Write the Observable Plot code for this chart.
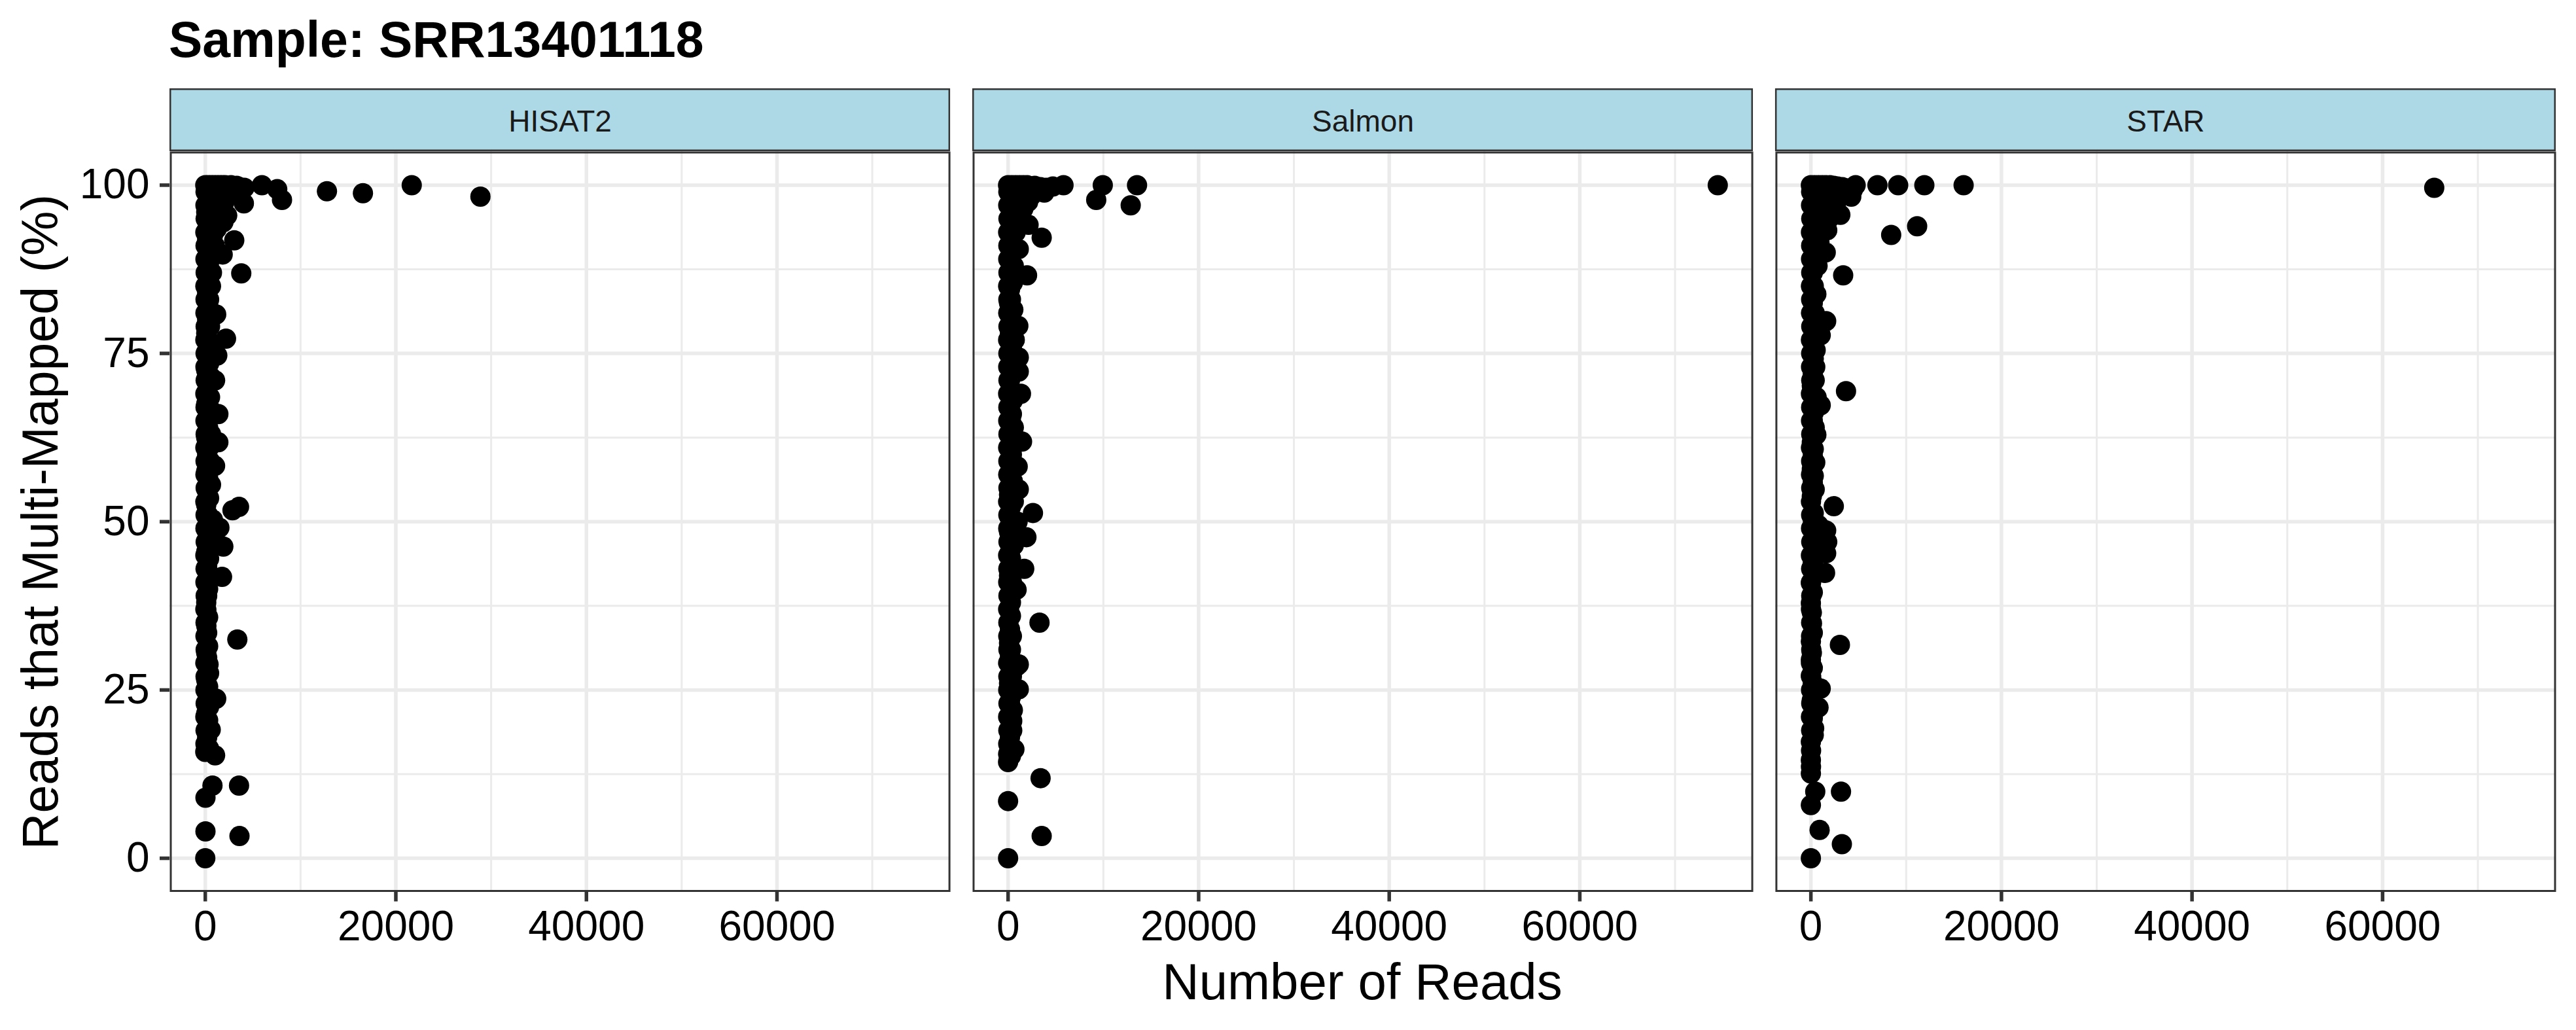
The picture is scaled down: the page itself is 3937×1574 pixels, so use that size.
<!DOCTYPE html>
<html>
<head>
<meta charset="utf-8">
<script src="https://cdn.jsdelivr.net/npm/d3@7"></script>
<script src="https://cdn.jsdelivr.net/npm/@observablehq/plot@0.6"></script>
<style>
  html, body { margin: 0; padding: 0; background: white; }
  #wrap { position: relative; width: 3937px; height: 1574px; overflow: hidden; font-family: "Liberation Sans", Arial, Helvetica, sans-serif; }
  #chart { position: absolute; left: 0; top: 0; }
  .lbl { position: absolute; line-height: 1; white-space: nowrap; color: black; }
  #title { left: 258px; top: 21.8px; font-size: 77px; font-weight: bold; }
  #xlab { left: 1482px; width: 1200px; top: 1460.7px; font-size: 78px; text-align: center; }
  #ylab { left: -538.7px; width: 1200px; top: 758.5px; height: 77px; font-size: 77px; text-align: center; transform: rotate(-90deg); }
</style>
</head>
<body>
<div id="wrap">
  <div id="chart"></div>
  <div class="lbl" id="title">Sample: SRR13401118</div>
  <div class="lbl" id="xlab">Number of Reads</div>
  <div class="lbl" id="ylab">Reads that Multi-Mapped (%)</div>
</div>
<script>
// ---- data: [number of reads, % multi-mapped] ----
const methods = ["HISAT2", "Salmon", "STAR"];

const hisat2 = [
  [28877, 98.3], [21668, 100], [16546, 98.8], [12770, 99.1], [8053, 97.8], [7552, 99.4], [5947, 100], [4050, 97.3],
  [0, 100], [300, 100], [600, 100], [900, 100], [1200, 100], [1500, 100], [1800, 100], [2100, 100], [2400, 99.9],
  [2700, 100], [3000, 99.8], [3300, 99.9], [3600, 99.7], [4100, 99.6],
  [150, 99.5], [450, 99.6], [750, 99.4], [1050, 99.7], [1350, 99.5], [1650, 99.6], [1950, 99.3], [2250, 99.5],
  [2550, 99.2], [2850, 99.4], [3150, 99.3], [450, 98.5], [900, 98.8], [1350, 98.2], [1800, 98.6], [700, 96],
  [1100, 95.5], [1300, 97.2], [900, 94.5], [500, 93.5],
  [2500, 98.5], [2000, 97.5], [3000, 98.8], [1500, 96.5], [2300, 95.5], [1900, 94.5], [1200, 93.5], [1000, 98],
  [500, 97], [100, 96], [1600, 95.8], [300, 94], [800, 92.5], [200, 92], [3041, 91.8], [1000, 91], [600, 90],
  [1826, 89.7], [400, 88.5], [700, 87], [3776, 86.9], [300, 86], [600, 85], [200, 84], [400, 83], [300, 82],
  [1145, 80.8], [200, 80], [500, 79], [100, 78], [2175, 77.2], [800, 76.5], [300, 76], [200, 75.5], [1260, 74.7],
  [400, 73.5], [100, 72.5], [600, 71.5], [1030, 71], [300, 70.5], [200, 69.5], [500, 68.5], [100, 67.5], [400, 67],
  [1373, 66], [200, 65], [300, 64], [600, 63], [100, 62.5], [1373, 61.8], [400, 61], [200, 60], [500, 59],
  [1030, 58.3], [100, 57.5], [300, 56.5], [600, 55.5], [200, 54.5], [400, 53.5], [100, 52.5], [3543, 52.2],
  [2857, 51.7], [300, 51], [800, 50.3], [1483, 49.1], [200, 48.5], [500, 47.5], [1895, 46.3], [100, 45.5],
  [400, 44.5], [200, 43.5], [300, 42.5], [1758, 41.8], [100, 41], [300, 40], [200, 39], [100, 38], [115, 36.9],
  [300, 35.8], [115, 34.5], [200, 33.5], [3364, 32.5], [300, 31.5], [100, 30.5], [200, 29.8], [343, 28.8],
  [400, 27.5], [100, 26.5], [300, 25.5], [200, 24.5], [1145, 23.7], [400, 22.5], [100, 21.5], [300, 20.5],
  [572, 19.1], [200, 18], [100, 17], [400, 16.3], [0, 15.8], [1030, 15.3], [755, 10.8], [3543, 10.8],
  [20, 9.0], [20, 4.0], [3590, 3.3], [0, 0],
  [30, 99], [20, 97], [40, 95], [10, 93], [30, 91], [20, 89], [40, 87], [10, 85], [30, 83], [20, 81], [40, 79],
  [10, 77], [30, 75], [20, 73], [40, 71], [10, 69], [30, 67], [20, 65], [40, 63], [10, 61], [30, 59], [20, 57],
  [40, 55], [10, 53], [30, 51], [20, 49], [40, 47], [10, 45], [30, 43], [20, 41], [40, 39], [10, 37], [30, 35],
  [20, 33], [40, 31], [10, 29], [30, 27], [20, 25], [40, 23], [10, 21], [30, 19], [20, 17]
];

const salmon = [
  [74480, 100], [13534, 100], [12870, 97.0], [9939, 100], [9251, 97.8], [5817, 100],
  [0, 100], [400, 100], [800, 100], [1200, 100], [1600, 100], [2000, 100], [2400, 99.8], [2800, 99.9],
  [3200, 99.5], [3600, 99.3], [4000, 99.6], [4700, 99.8],
  [200, 99.6], [600, 99.5], [1000, 99.7], [1400, 99.4], [1800, 99.6], [2200, 99.3], [2600, 99.5], [3000, 99.2],
  [3400, 99.7], [3800, 98.9], [800, 98.5], [1300, 98.2], [1800, 98.8], [400, 96.5], [900, 96], [1500, 94.8],
  [700, 94], [300, 92.8],
  [2500, 98.5], [2100, 97.5], [1600, 96.5], [1200, 95.5], [2150, 94.1], [600, 97], [300, 95], [3527, 92.2],
  [800, 93], [1122, 90.5], [400, 91.5], [200, 89], [600, 88], [1992, 86.6], [300, 87], [206, 84.5], [500, 85.5],
  [300, 83], [100, 82.5], [550, 81.5], [300, 80], [1076, 79.1], [200, 78], [700, 77], [400, 76], [1122, 74.4],
  [300, 73.3], [1122, 72.3], [200, 71], [1351, 69], [500, 68], [100, 67], [400, 66], [300, 65], [600, 64],
  [200, 63], [1466, 61.9], [100, 61], [400, 60], [300, 59], [1008, 58.2], [200, 57], [500, 56], [1122, 54.8],
  [100, 54], [600, 53], [300, 52.2], [2611, 51.3], [200, 50.5], [1000, 50], [400, 49], [1924, 47.7],
  [100, 48.5], [600, 46.5], [200, 45.5], [300, 44.5], [1695, 43], [100, 42], [400, 41], [893, 39.9],
  [200, 39], [300, 38], [100, 37], [300, 36], [3298, 35], [200, 34], [400, 33], [100, 32], [300, 31],
  [200, 30], [1122, 28.8], [893, 28.5], [400, 27], [100, 26], [1122, 25.1], [300, 24], [200, 23], [500, 22],
  [100, 21], [435, 20.4], [435, 19], [200, 18], [664, 16.2], [300, 15.2], [0, 14.3], [3412, 11.9],
  [0, 8.5], [3527, 3.3], [0, 0],
  [30, 99], [20, 97], [40, 95], [10, 93], [30, 91], [20, 89], [40, 87], [10, 85], [30, 83], [20, 81], [40, 79],
  [10, 77], [30, 75], [20, 73], [40, 71], [10, 69], [30, 67], [20, 65], [40, 63], [10, 61], [30, 59], [20, 57],
  [40, 55], [10, 53], [30, 51], [20, 49], [40, 47], [10, 45], [30, 43], [20, 41], [40, 39], [10, 37], [30, 35],
  [20, 33], [40, 31], [10, 29], [30, 27], [20, 25], [40, 23], [10, 21], [30, 19], [20, 17], [10, 15.5]
];

const star = [
  [65420, 99.6], [16030, 100], [11908, 100], [9160, 100], [6985, 100], [4695, 100], [11152, 93.9], [8427, 92.6],
  [0, 100], [400, 100], [800, 100], [1200, 100], [1600, 100], [2000, 100], [2400, 99.9], [2800, 99.8],
  [3300, 99.7], [3800, 99.5],
  [200, 99.6], [600, 99.5], [1000, 99.7], [1400, 99.4], [1800, 99.6], [2200, 99.3], [2600, 99.5], [3000, 99.2],
  [3400, 99.4], [3900, 99.0], [4400, 99.3], [1800, 98.5], [2400, 98.3], [600, 97.5], [1300, 96], [2600, 96.8],
  [800, 95.8], [1900, 95],
  [4237, 98.3], [3500, 98.8], [2800, 97.8], [2200, 96.5], [1500, 97], [1000, 98.5],
  [3091, 95.6], [1200, 94.5], [300, 95], [1717, 93.3], [500, 92.5], [900, 91.5], [1557, 90.0], [400, 89],
  [700, 88], [200, 87], [3389, 86.6], [300, 85], [573, 83.8], [200, 82.5], [400, 81], [1603, 79.8],
  [1030, 77.7], [200, 76.5], [500, 75.5], [300, 74.2], [458, 73.0], [200, 72], [400, 71], [100, 70.2],
  [3687, 69.4], [600, 68.5], [1030, 67.3], [300, 66.2], [200, 65], [400, 64], [573, 62.9], [100, 61.8],
  [300, 60.8], [200, 59.8], [458, 58.8], [100, 57.8], [300, 56.8], [200, 55.8], [400, 54.8], [100, 53.8],
  [2404, 52.3], [300, 51.3], [200, 50.3], [800, 49.5], [1603, 48.7], [1717, 47], [400, 46], [1603, 45.3],
  [200, 44], [300, 43.2], [1488, 42.4], [0, 40.9], [200, 39.5], [0, 37.9], [100, 36.5], [115, 34.9],
  [200, 33.5], [0, 32.2], [3046, 31.7], [100, 30.5], [0, 29.5], [200, 28.3], [0, 27.1], [200, 26],
  [1030, 25.2], [100, 23.5], [802, 22.4], [200, 20.8], [343, 19.3], [300, 18.3], [0, 17.3], [0, 14.6],
  [0, 12.6], [458, 9.9], [3160, 9.9], [0, 7.9], [916, 4.2], [3252, 2.1], [0, 0],
  [30, 99], [20, 97], [40, 95], [10, 93], [30, 91], [20, 89], [40, 87], [10, 85], [30, 83], [20, 81], [40, 79],
  [10, 77], [30, 75], [20, 73], [40, 71], [10, 69], [30, 67], [20, 65], [40, 63], [10, 61], [30, 59], [20, 57],
  [40, 55], [10, 53], [30, 51], [20, 49], [40, 47], [10, 45], [30, 43], [20, 41], [40, 39], [10, 37], [30, 35],
  [20, 33], [40, 31], [10, 29], [30, 27], [20, 25], [40, 23], [10, 21], [30, 19], [20, 16], [10, 13.6]
];

const xTicks = [0, 20000, 40000, 60000];
const xMinorTicks = [10000, 30000, 50000, 70000];
const yTicks = [0, 25, 50, 75, 100];
const yMinorTicks = [12.5, 37.5, 62.5, 87.5];

// ---- table for the library ----
const seriesByMethod = {HISAT2: hisat2, Salmon: salmon, STAR: star};
const rows = methods.flatMap(m => seriesByMethod[m].map(([reads, pct]) => ({method: m, reads, pct})));

// ggplot-style 5% expansion of the data range
const expand = ([a, b]) => [a - (b - a) * 0.05, b + (b - a) * 0.05];
const xDomain = expand(d3.extent(rows, d => d.reads));
const yDomain = expand(d3.extent(rows, d => d.pct));

const STRIP_H = 96;
// strip background drawn above each facet panel
const strip = (index, scales) => {
  const x0 = scales.x(xDomain[0]), x1 = scales.x(xDomain[1]);
  const yTop = scales.y(yDomain[1]);
  const g = d3.create("svg:g");
  g.append("rect")
    .attr("x", x0 + 1.25).attr("y", yTop - STRIP_H + 1.25)
    .attr("width", x1 - x0 - 2.5).attr("height", STRIP_H - 2.5)
    .attr("fill", "#ADD8E6").attr("stroke", "#333333").attr("stroke-width", 2.5);
  return g.node();
};

const chart = Plot.plot({
  width: 3937,
  height: 1574,
  marginLeft: 259,
  marginRight: 31,
  marginTop: 231,
  marginBottom: 211.5,
  style: {fontFamily: '"Liberation Sans", Arial, Helvetica, sans-serif', background: "white", overflow: "visible"},
  fx: {domain: methods, paddingInner: 0.0276, paddingOuter: 0, round: false, label: null},
  x: {domain: xDomain, label: null},
  y: {domain: yDomain, label: null},
  marks: [
    strip,
    Plot.ruleX(xMinorTicks, {stroke: "#EBEBEB", strokeWidth: 3}),
    Plot.ruleY(yMinorTicks, {stroke: "#EBEBEB", strokeWidth: 3}),
    Plot.ruleX(xTicks, {stroke: "#EBEBEB", strokeWidth: 5.5}),
    Plot.ruleY(yTicks, {stroke: "#EBEBEB", strokeWidth: 5.5}),
    Plot.dot(rows, {fx: "method", x: "reads", y: "pct", r: 15.5, fill: "black", stroke: "none"}),
    Plot.frame({stroke: "#333333", strokeWidth: 3, inset: 1.5}),
    Plot.axisX({ticks: xTicks, tickFormat: d3.format("d"), tickSize: 15, tickPadding: 14, fontSize: 64,
                stroke: "#333333", strokeWidth: 5.5, fill: "black", label: null}),
    Plot.axisY({ticks: yTicks, tickFormat: d3.format("d"), tickSize: 15, tickPadding: 16, fontSize: 64,
                stroke: "#333333", strokeWidth: 5.5, fill: "black", label: null}),
    Plot.axisFx({anchor: "top", tickSize: 0, tickPadding: 31, fontSize: 46, fill: "#1A1A1A", label: null})
  ]
});
document.getElementById("chart").appendChild(chart);
</script>
</body>
</html>
